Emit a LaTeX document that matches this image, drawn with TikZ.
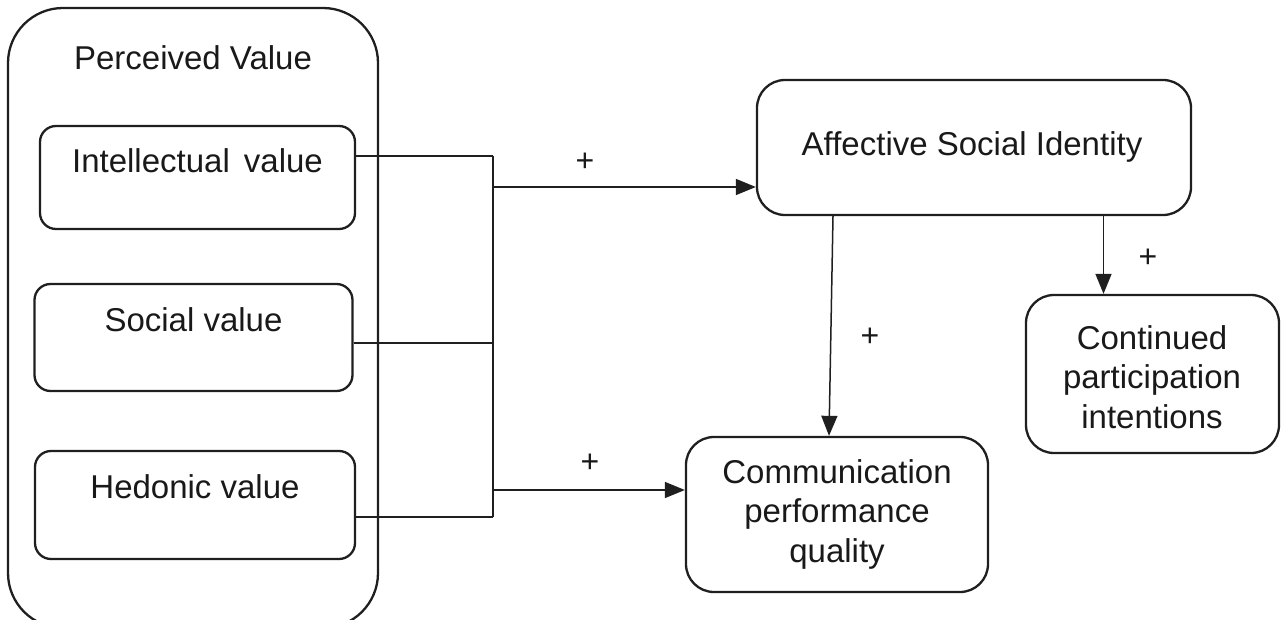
\documentclass[tikz,border=0pt]{standalone}
\usepackage{fontspec}
\setmainfont{Liberation Sans}
\usetikzlibrary{arrows.meta}
\begin{document}
\begin{tikzpicture}[x=1pt,y=-1pt,
  box/.style={draw=black!88, line width=2.3pt, rounded corners=16pt, inner sep=0pt},
  txt/.style={font=\fontsize{33}{39.5}\selectfont, text=black!90, align=center, inner sep=0pt},
  conn/.style={draw=black!88, line width=1.5pt},
  arr/.style={conn, -{Triangle[length=20pt,width=16pt]}},
  plus/.style={font=\fontsize{32}{34}\selectfont, text=black!90, inner sep=0pt}]
\useasboundingbox (0,0) rectangle (1282,620);
% container
\node[box, rounded corners=55pt, minimum width=370pt, minimum height=620pt] (pv) at (193,318) {};
\node[txt] (pvt) at (193,58) {Perceived Value};
% value boxes
\node[box, minimum width=315pt, minimum height=103pt] (iv) at (197.5,177.5) {};
\node[txt] (ivt) at (197.5,161) {Intellectual\hspace{0.15em} value};
\node[box, minimum width=318pt, minimum height=107pt] (sv) at (193.5,337.5) {};
\node[txt] (svt) at (193.5,320) {Social value};
\node[box, minimum width=320pt, minimum height=108pt] (hv) at (195,505) {};
\node[txt] (hvt) at (195,487) {Hedonic value};
% outcome boxes
\node[box, rounded corners=28pt, minimum width=434pt, minimum height=135pt] (asi) at (974,147.5) {};
\node[txt] (asit) at (972,147) {Affective Social Identity};
\node[box, rounded corners=28pt, minimum width=253pt, minimum height=158pt] (cp) at (1152.5,374) {};
\node[txt] (cpt) at (1152,377) {Continued\\participation\\intentions};
\node[box, rounded corners=28pt, minimum width=302pt, minimum height=155pt] (comm) at (837,514.5) {};
\node[txt] (commt) at (837,514) {Communication\\performance\\quality};
% junction
\coordinate (j1) at (493,156);
\coordinate (j2) at (493,343);
\coordinate (j3) at (493,517);
\draw[conn] (iv.east |- j1) -- (j1);
\draw[conn] (sv.east |- j2) -- (j2);
\draw[conn] (hv.east |- j3) -- (j3);
\draw[conn] (j1) -- (j3);
% arrows
\coordinate (s1) at (493,187);
\draw[arr] (s1) -- (asi.west |- s1);
\coordinate (s2) at (494,490);
\draw[arr] (s2) -- (comm.west |- s2);
\coordinate (c0) at ([xshift=-141pt]asi.south);
\coordinate (c2) at ([xshift=-8pt]comm.north);
\draw[arr] (c0) -- (c2);
\coordinate (c1) at ([xshift=-49pt]cp.north);
\draw[arr] (asi.south -| c1) -- (c1);
% signs
\node[plus] (p1) at (585,162) {+};
\node[plus] (p2) at (590,463) {+};
\node[plus] (p3) at (870,337) {+};
\node[plus] (p4) at (1148,258) {+};
\end{tikzpicture}
\end{document}
